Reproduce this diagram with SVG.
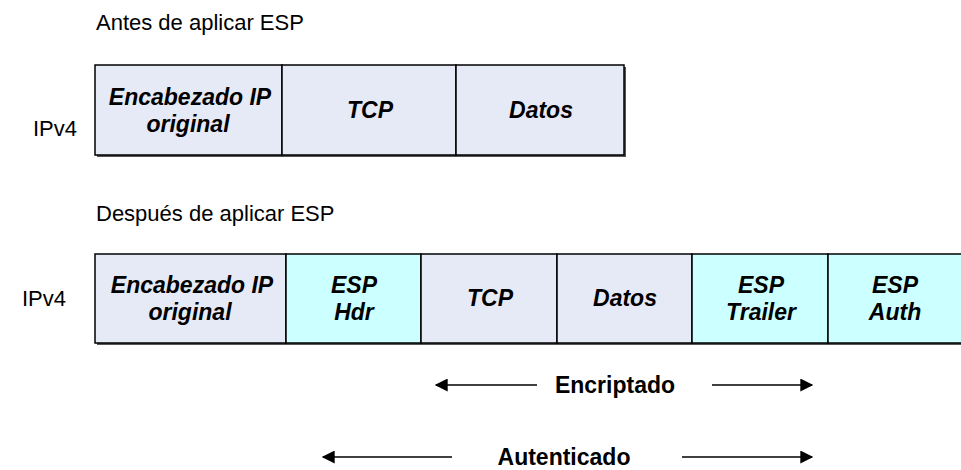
<svg xmlns="http://www.w3.org/2000/svg" width="961" height="470" viewBox="0 0 961 470">
<style>
.t{font-family:"Liberation Sans",Arial,sans-serif;font-size:22px;fill:#000}
.c{font-family:"Liberation Sans",Arial,sans-serif;font-size:23px;font-weight:bold;font-style:italic;fill:#000;text-anchor:middle}
.b{font-family:"Liberation Sans",Arial,sans-serif;font-size:23px;font-weight:bold;fill:#000;text-anchor:middle}
.g{fill:#E6EAF6;stroke:#000;stroke-width:1.5}
.y{fill:#CCFFFF;stroke:#000;stroke-width:1.5}
.sh{fill:#555}
.ar{stroke:#000;stroke-width:1.5;fill:none}
</style>
<defs>
<marker id="ah" viewBox="0 0 10 10" refX="9" refY="5" markerWidth="14" markerHeight="13" markerUnits="userSpaceOnUse" orient="auto-start-reverse">
<path d="M0,0 L10,5 L0,10 z" fill="#000"/>
</marker>
</defs>
<text class="t" x="96" y="30">Antes de aplicar ESP</text>
<text class="t" x="33" y="136">IPv4</text>
<text class="t" x="96" y="221">Después de aplicar ESP</text>
<text class="t" x="22" y="306">IPv4</text>
<rect class="sh" x="97" y="67" width="529" height="90"/>
<g id="top-ip"><rect class="g" x="95" y="65" width="187" height="90"/><text class="c" x="190" y="105">Encabezado IP</text><text class="c" x="188" y="132">original</text></g>
<g id="top-tcp"><rect class="g" x="282" y="65" width="174" height="90"/><text class="c" x="370" y="118">TCP</text></g>
<g id="top-datos"><rect class="g" x="456" y="65" width="168" height="90"/><text class="c" x="541" y="118">Datos</text></g>
<rect class="sh" x="97" y="256" width="870" height="89"/>
<g id="bot-ip"><rect class="g" x="95" y="254" width="191" height="89"/><text class="c" x="192" y="293">Encabezado IP</text><text class="c" x="190" y="320">original</text></g>
<g id="bot-esphdr"><rect class="y" x="286" y="254" width="135" height="89"/><text class="c" x="354" y="293">ESP</text><text class="c" x="354" y="320">Hdr</text></g>
<g id="bot-tcp"><rect class="g" x="421" y="254" width="136" height="89"/><text class="c" x="490" y="306">TCP</text></g>
<g id="bot-datos"><rect class="g" x="557" y="254" width="135" height="89"/><text class="c" x="625" y="306">Datos</text></g>
<g id="bot-trailer"><rect class="y" x="692" y="254" width="136" height="89"/><text class="c" x="761" y="293">ESP</text><text class="c" x="761" y="320">Trailer</text></g>
<g id="bot-auth"><rect class="y" x="828" y="254" width="136" height="89"/><text class="c" x="895" y="293">ESP</text><text class="c" x="895" y="320">Auth</text></g>
<g id="connectors">
<line class="ar" x1="537" y1="385" x2="436" y2="385" marker-end="url(#ah)"/>
<line class="ar" x1="712" y1="385" x2="812" y2="385" marker-end="url(#ah)"/>
<line class="ar" x1="452" y1="457" x2="323" y2="457" marker-end="url(#ah)"/>
<line class="ar" x1="682" y1="457" x2="812" y2="457" marker-end="url(#ah)"/>
</g>
<text class="b" x="615" y="393">Encriptado</text>
<text class="b" x="564" y="465">Autenticado</text>
</svg>
